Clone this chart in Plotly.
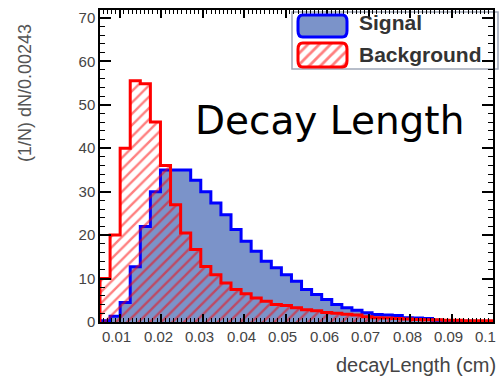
import numpy as np
import plotly.graph_objects as go

# ---- data ----
bin_width = 0.00243
x_max = 0.1
n_bins = 39
signal = [0.3, 1.3, 4.5, 12.7, 22, 30, 35, 35, 35, 32.6,
          30, 27.4, 24.7, 21.3, 18.6, 16.3, 14, 12.5, 10.9, 9.4,
          7.5, 6.3, 5.2, 4.0, 3.3, 2.7, 2.1, 1.7, 1.6, 1.5,
          1.0, 0.9, 0.8, 0.4, 0.3, 0.2, 0.2, 0.1, 0.1]
background = [10, 20, 40, 55.5, 54.8, 46, 36, 27, 20.5, 16.7,
              12.8, 10.9, 9, 7.5, 6.5, 5.5, 4.8, 4.0, 3.8, 3.3,
              2.8, 2.6, 2.2, 2.0, 1.8, 1.6, 1.2, 1.0, 0.9, 0.8,
              0.7, 0.6, 0.5, 0.5, 0.4, 0.4, 0.3, 0.3, 0.3]
x_tickvals = [0.01, 0.02, 0.03, 0.04, 0.05, 0.06, 0.07, 0.08, 0.09, 0.1]
x_ticktext = ["0.01", "0.02", "0.03", "0.04", "0.05", "0.06", "0.07", "0.08", "0.09", "0.1"]
y_tickvals = [0, 10, 20, 30, 40, 50, 60, 70]
y_ticktext = ["0", "10", "20", "30", "40", "50", "60", "70"]
series_names = ["Signal", "Background"]

x_min = x_max - n_bins * bin_width
edges = x_min + bin_width * np.arange(n_bins + 1)


def step_xy(vals):
    xs = [edges[0]] + list(edges[:-1]) + [edges[-1], edges[-1]]
    ys = [0] + list(vals) + [vals[-1], 0]
    return xs, ys


BLUE_FILL = "#7b93c9"
fig = go.Figure()

sx, sy = step_xy(signal)
fig.add_trace(go.Scatter(x=sx, y=sy, mode="lines", line=dict(color="#0000ff", width=3, shape="hv"),
                         fill="tozeroy", fillcolor=BLUE_FILL, showlegend=False, name=series_names[0]))
bx, by = step_xy(background)
fig.add_trace(go.Scatter(x=bx, y=by, mode="lines", line=dict(color="#ff0000", width=3, shape="hv"),
                         fill="tozeroy", fillcolor="rgba(0,0,0,0)",
                         fillpattern=dict(shape="/", fgcolor="#ff0000", bgcolor="rgba(0,0,0,0)",
                                          size=8, solidity=0.3),
                         showlegend=False, name=series_names[1]))

# hatched legend symbol (tiny overlay axes)
fig.add_trace(go.Scatter(x=[0, 1, 1, 0, 0], y=[0, 0, 1, 1, 0], mode="lines",
                         line=dict(color="rgba(0,0,0,0)", width=0),
                         fill="toself", fillcolor="white",
                         fillpattern=dict(shape="/", fgcolor="#ff0000", bgcolor="white", size=8, solidity=0.35),
                         xaxis="x2", yaxis="y2", showlegend=False, hoverinfo="skip"))

W, H = 500, 378
L, R, T, B = 100, 7, 10, 56
pw, ph = W - L - R, H - T - B


def px(x):
    return (x - L) / pw


def py(y):
    return (H - B - y) / ph


def rounded(x0, y0, x1, y1, r=0.012, ry=0.02):
    return (f"M {x0+r},{y0} L {x1-r},{y0} Q {x1},{y0} {x1},{y0+ry} L {x1},{y1-ry} "
            f"Q {x1},{y1} {x1-r},{y1} L {x0+r},{y1} Q {x0},{y1} {x0},{y1-ry} "
            f"L {x0},{y0+ry} Q {x0},{y0} {x0+r},{y0} Z")


sym_x0, sym_x1 = px(298), px(347)
sig_y0, sig_y1 = py(37), py(15)
bkg_y0, bkg_y1 = py(67), py(43)

shapes = [
    dict(type="rect", xref="paper", yref="paper", x0=px(292), x1=px(498), y0=py(69), y1=py(12),
         fillcolor="white", line=dict(color="#a0a8b8", width=1.5), layer="below"),
    dict(type="path", xref="paper", yref="paper", path=rounded(sym_x0, sig_y0, sym_x1, sig_y1),
         fillcolor=BLUE_FILL, line=dict(color="#0000ff", width=3), layer="above"),
    dict(type="path", xref="paper", yref="paper", path=rounded(sym_x0, bkg_y0, sym_x1, bkg_y1),
         fillcolor="rgba(0,0,0,0)", line=dict(color="#ff0000", width=3), layer="above"),
]

TICK_FONT = dict(family="Liberation Sans", size=15, color="#444444")

annotations = [
    dict(text="Signal", x=px(357), y=py(23), xref="paper", yref="paper", xanchor="left", yanchor="middle",
         showarrow=False, font=dict(family="Liberation Sans", size=21, color="#333333", weight="bold")),
    dict(text="Background", x=px(357), y=py(54), xref="paper", yref="paper", xanchor="left", yanchor="middle",
         showarrow=False, font=dict(family="Liberation Sans", size=21, color="#333333", weight="bold")),
    dict(text="Decay Length", x=px(193), y=py(121), xref="paper", yref="paper", xanchor="left", yanchor="middle",
         showarrow=False, font=dict(family="DejaVu Sans", size=39, color="black")),
    dict(text="(1/N) dN/0.00243", x=px(25), y=py(93), xref="paper", yref="paper", xanchor="center",
         yanchor="middle", textangle=-90, showarrow=False,
         font=dict(family="Liberation Sans", size=18, color="#555555")),
    dict(text="decayLength (cm)", x=px(498), y=py(365), xref="paper", yref="paper", xanchor="right",
         yanchor="middle", showarrow=False, font=dict(family="Liberation Sans", size=20, color="#444444")),
]

# x tick labels as text placed at the axis values (last one kept inside the page)
for i, (v, t) in enumerate(zip(x_tickvals, x_ticktext)):
    last = i == len(x_tickvals) - 1
    annotations.append(dict(text=t, x=v, xref="x", y=py(336), yref="paper",
                            xanchor="right" if last else "center", xshift=5 if last else -3,
                            yanchor="middle", showarrow=False, font=TICK_FONT))

fig.update_layout(
    width=W, height=H, margin=dict(l=L, r=R, t=T, b=B, pad=0, autoexpand=False),
    paper_bgcolor="white", plot_bgcolor="white", showlegend=False,
    shapes=shapes, annotations=annotations,
    xaxis=dict(range=[x_min, x_max], tickmode="array", tickvals=x_tickvals, ticktext=x_ticktext,
               showticklabels=False, automargin=False,
               ticks="inside", ticklen=8, tickwidth=1.5, tickcolor="black",
               minor=dict(tickmode="linear", tick0=0, dtick=0.001, ticks="inside", ticklen=4,
                          tickcolor="black", tickwidth=1),
               showline=True, linecolor="black", linewidth=1.5, mirror="allticks",
               showgrid=False, zeroline=False),
    yaxis=dict(range=[0, 71.8], tickmode="array", tickvals=y_tickvals, ticktext=y_ticktext,
               automargin=False,
               ticks="inside", ticklen=11, tickwidth=1.5, tickcolor="black",
               minor=dict(tickmode="linear", tick0=0, dtick=2, ticks="inside", ticklen=5,
                          tickcolor="black", tickwidth=1),
               showline=True, linecolor="black", linewidth=1.5, mirror="allticks",
               showgrid=False, zeroline=False, tickfont=TICK_FONT),
    xaxis2=dict(domain=[sym_x0, sym_x1], anchor="y2", range=[0, 1], visible=False, fixedrange=True),
    yaxis2=dict(domain=[bkg_y0, bkg_y1], anchor="x2", range=[0, 1], visible=False, fixedrange=True),
)

fig.write_html("out.html")
